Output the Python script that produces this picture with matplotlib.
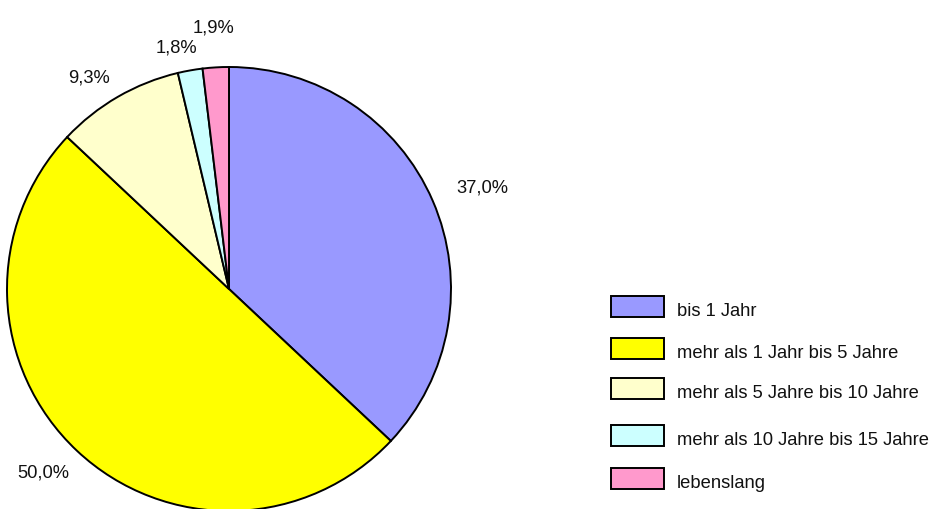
import numpy as np
import matplotlib
matplotlib.use("Agg")
import matplotlib.pyplot as plt

# Daten
kategorien = ["bis 1 Jahr", "mehr als 1 Jahr bis 5 Jahre", "mehr als 5 Jahre bis 10 Jahre",
              "mehr als 10 Jahre bis 15 Jahre", "lebenslang"]
anteile = [37.0, 50.0, 9.3, 1.8, 1.9]
farben = ["#9999FF", "#FFFF00", "#FFFFCC", "#CCFFFF", "#FF99CC"]

# Lage der Prozentwerte: Abstand vom Mittelpunkt und Winkelversatz (Grad)
label_abstand = [1.232, 1.175, 1.146, 1.114, 1.18]
label_versatz = [-1.4, -2.3, 3.3, 2.3, -0.1]

plt.rcParams['font.family'] = ['Liberation Sans', 'DejaVu Sans']

W, H = 936, 510
fig = plt.figure(figsize=(W / 100, H / 100), dpi=100)

# Kreis: Mitte (229, 290), Radius 222 Pixel
cx, cy, r = 229, 290, 222
ax = fig.add_axes([(cx - r) / W, (H - cy - r) / H, 2 * r / W, 2 * r / H])
wedges, _ = ax.pie(anteile, colors=farben, startangle=90, counterclock=False,
                   wedgeprops=dict(edgecolor="black", linewidth=1.4), radius=1)
ax.set_xlim(-1, 1)
ax.set_ylim(-1, 1)
ax.set_aspect("equal")
ax.axis("off")

for w, wert, d, v in zip(wedges, anteile, label_abstand, label_versatz):
    mitte = np.deg2rad((w.theta1 + w.theta2) / 2 + v)
    ax.text(d * np.cos(mitte), d * np.sin(mitte), f"{wert:.1f}%".replace(".", ","),
            ha="center", va="center", fontsize=13.2, color="#111111", clip_on=False)

# Legende
leg_ax = fig.add_axes([0, 0, 1, 1])
leg_ax.set_xlim(0, W)
leg_ax.set_ylim(H, 0)
leg_ax.axis("off")
zeilen_y = [307, 349.5, 389.5, 436, 479.5]
for y, name, f in zip(zeilen_y, kategorien, farben):
    leg_ax.add_patch(plt.Rectangle((611, y - 10.5), 53, 21, facecolor=f,
                                   edgecolor="black", linewidth=1.4))
    leg_ax.text(677, y + 4.5, name, ha="left", va="center", fontsize=13.2, color="#111111")

fig.savefig("out.png", dpi=100)
